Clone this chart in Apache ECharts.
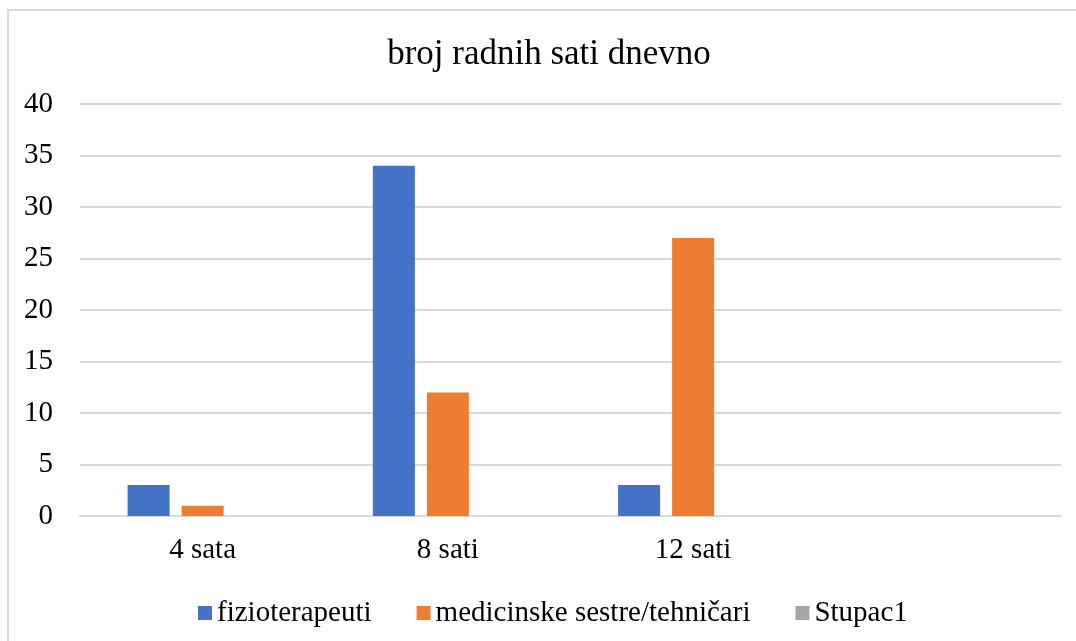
<!DOCTYPE html>
<html>
<head>
<meta charset="utf-8">
<script src="https://cdn.jsdelivr.net/npm/echarts@6/dist/echarts.min.js"></script>
<style>
html,body{margin:0;padding:0;background:#fff;}
#chart{width:1076px;height:641px;}
</style>
</head>
<body>
<div id="chart"></div>
<script>
const categories = ['4 sata', '8 sati', '12 sati', ''];
const fizioterapeuti = [3, 34, 3, null];
const medicinskeSestre = [1, 12, 27, null];
const stupac1 = [null, null, null, null];
const seriesNames = ['fizioterapeuti', 'medicinske sestre/tehničari', 'Stupac1'];
const yMin = 0, yMax = 40, yStep = 5;

const FONT = 'Liberation Serif';
const chart = echarts.init(document.getElementById('chart'));
const barStyle = {barWidth: 42, barGap: '28.6%'};
chart.setOption({
  animation: false,
  backgroundColor: '#fff',
  color: ['#4472C4', '#ED7D31', '#A5A5A5'],
  graphic: [{
    type: 'rect', shape: {x: 8, y: 10, width: 1200, height: 800},
    style: {fill: 'none', stroke: '#D9D9D9', lineWidth: 2}, silent: true, z: -10
  }],
  title: {
    text: 'broj radnih sati dnevno',
    left: 549, textAlign: 'center', top: 37, padding: 0,
    textStyle: {fontFamily: FONT, fontSize: 35, fontWeight: 'normal', color: '#000'}
  },
  legend: {
    data: seriesNames,
    left: 193, top: 593, itemWidth: 14, itemHeight: 14, itemGap: 45,
    icon: 'rect',
    textStyle: {fontFamily: FONT, fontSize: 29, color: '#000', lineHeight: 30}
  },
  grid: {left: 80, right: 15, top: 104, bottom: 125, containLabel: false},
  xAxis: {
    type: 'category', data: categories,
    axisLine: {lineStyle: {color: '#D9D9D9', width: 2}},
    axisTick: {show: false},
    axisLabel: {fontFamily: FONT, fontSize: 29, color: '#000', margin: 20, lineHeight: 29}
  },
  yAxis: {
    type: 'value', min: yMin, max: yMax, interval: yStep,
    axisLine: {show: false}, axisTick: {show: false},
    splitLine: {lineStyle: {color: '#D9D9D9', width: 2}},
    axisLabel: {fontFamily: FONT, fontSize: 29, color: '#000', margin: 27}
  },
  series: [
    Object.assign({type: 'bar', name: seriesNames[0], data: fizioterapeuti}, barStyle),
    Object.assign({type: 'bar', name: seriesNames[1], data: medicinskeSestre}, barStyle),
    Object.assign({type: 'bar', name: seriesNames[2], data: stupac1}, barStyle)
  ]
});
</script>
</body>
</html>
